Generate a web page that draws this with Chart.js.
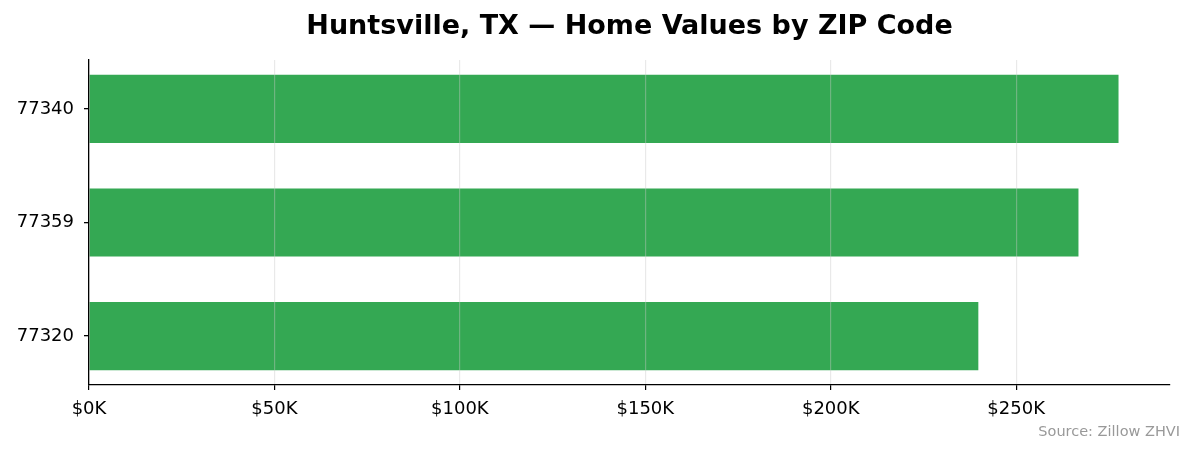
<!DOCTYPE html>
<html>
<head>
<meta charset="utf-8">
<script src="https://cdn.jsdelivr.net/npm/chart.js@4/dist/chart.umd.min.js"></script>
<style>
  html, body { margin: 0; padding: 0; background: #fff; }
  #wrap { width: 1195px; height: 455px; }
</style>
</head>
<body>
<div id="wrap"><canvas id="zhvi"></canvas></div>
<script>
// ZIP codes, bottom to top (matplotlib barh order)
var zips = ['77320', '77359', '77340'];
var homeValues = [239800, 266800, 277600];
var xTickStep = 50000;
var chartTitle = 'Huntsville, TX \u2014 Home Values by ZIP Code';
var sourceNote = 'Source: Zillow ZHVI';

var barColor = '#34a853';
var fontFamily = '"DejaVu Sans", Verdana, sans-serif';

// 5% margin like matplotlib
var xMax = Math.max.apply(null, homeValues) * 1.05;
var yMin = -0.3 - 0.13, yMax = zips.length - 1 + 0.3 + 0.13;

var barData = homeValues.map(function(v, i) { return { x: v, y: i }; });

var sourcePlugin = {
    id: 'sourceNote',
    afterDraw: function(chart) {
        var ctx = chart.ctx;
        ctx.save();
        ctx.font = '14.5px ' + fontFamily;
        ctx.fillStyle = '#999999';
        ctx.textAlign = 'right';
        ctx.textBaseline = 'middle';
        ctx.fillText(sourceNote, 1180, 432);
        ctx.restore();
    }
};

var ctx = document.getElementById('zhvi').getContext('2d');
new Chart(ctx, {
    type: 'bar',
    data: {
        datasets: [{
            data: barData,
            backgroundColor: barColor,
            borderWidth: 0,
            barPercentage: 0.6,
            categoryPercentage: 1.0
        }]
    },
    options: {
        indexAxis: 'y',
        responsive: true,
        maintainAspectRatio: false,
        animation: false,
        layout: { padding: { left: 0, right: 25, top: 0, bottom: 0 } },
        plugins: {
            legend: { display: false },
            tooltip: { enabled: false },
            title: {
                display: true,
                fullSize: false,
                text: chartTitle,
                color: '#000',
                font: { family: fontFamily, size: 27, weight: 'bold' },
                padding: { top: 11, bottom: 16.6 }
            }
        },
        scales: {
            x: {
                type: 'linear',
                position: 'bottom',
                offset: false,
                min: 0,
                max: xMax,
                afterBuildTicks: function(scale) {
                    var t = [];
                    for (var v = 0; v <= xMax; v += xTickStep) t.push({ value: v });
                    scale.ticks = t;
                },
                afterFit: function(scale) { scale.height = 70; },
                ticks: {
                    color: '#000',
                    padding: 9,
                    maxRotation: 0,
                    autoSkip: false,
                    font: { family: fontFamily, size: 18 },
                    callback: function(v) { return '$' + (v / 1000) + 'K'; }
                },
                grid: {
                    z: 1,
                    offset: false,
                    color: 'rgba(200,200,200,0.4)',
                    lineWidth: 1.2,
                    tickColor: '#000',
                    tickLength: 5
                },
                border: { display: true, color: '#000', width: 1.3, z: 2 }
            },
            y: {
                type: 'linear',
                position: 'left',
                offset: false,
                min: yMin,
                max: yMax,
                afterBuildTicks: function(scale) {
                    scale.ticks = zips.map(function(z, i) { return { value: i }; });
                },
                afterFit: function(scale) { scale.width = 89; },
                ticks: {
                    color: '#000',
                    padding: 10,
                    autoSkip: false,
                    font: { family: fontFamily, size: 18 },
                    callback: function(v) { return zips[v]; }
                },
                grid: {
                    offset: false,
                    drawOnChartArea: false,
                    tickColor: '#000',
                    tickLength: 5,
                    lineWidth: 1.3
                },
                border: { display: true, color: '#000', width: 1.3, z: 2 }
            }
        }
    },
    plugins: [sourcePlugin]
});
</script>
</body>
</html>
